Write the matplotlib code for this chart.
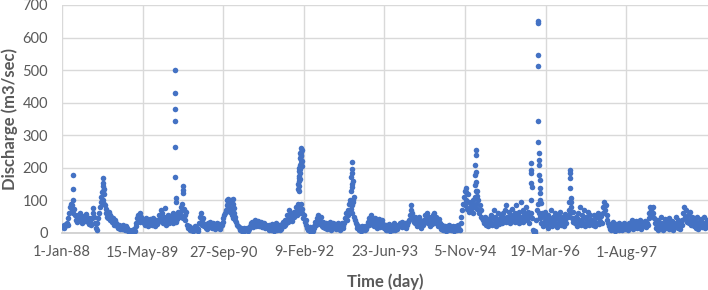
import numpy as np
import pandas as pd
import matplotlib
matplotlib.use("Agg")
import matplotlib.pyplot as plt

# ---- base flow, one value every 5 days, one list per calendar year ----
q1988 = [18,22,15,25,20,28,30,24, 45,62,80,88,70,85,60,75,55,
         40,50,35,55,45,62,38,48,30,42,52,36,45,58,40,33,47,28,38,
         25,45,60,77,50,30,15,10, 30,45,60,80,95,110,125,100,90,85,75,60,50,45,
         65,55,40,50,35,45,30,25,40,30,20,25, 15,25,12]
q1989 = [20,12,25,15,18,10,22,14, 8,5,10,3,6,2,8,4,12,6,
         20,30,45,55,40,60,35,50,42,38,
         30,40,25,45,35,20,38,28,42,32,25,36,45,30,22,35,40,28,
         35,55,45,70,40,60,30,50,77,45,25,38,55,42,30,48,
         40,55,30,60,45,50,35,58,42,65,50]
q1990 = [60,80,50,70,45,75,55,40,65,
         25,15,20,10,18,8,12,5,15,10,20,8,14,6,12,
         30,50,61,40,25,45,
         20,28,15,25,12,30,18,35,22,28,15,32,20,12,25,18,30,15,22,28,12,20,25,
         35,45,55,60,70,85,100,80,95,65,100,75,55,45,60,50,40,35,25,20]
q1991 = [18,12,8,15,5,10,14,6,12,8,16,10,5,12,
         20,30,25,35,18,28,40,22,32,26,38,20,30,25,35,18,28,22,32,15,25,20,
         15,25,10,20,8,28,12,22,5,18,30,10,20,15,25,8,18,12,28,35,20,
         25,40,30,55,35,50,70,45,60,38,52,65,48, 60,80,55]
q1992 = [90,70,85,60, 90,75,60,45,55,35,25,40,
         15,8,12,5,18,3,10,6,14,
         20,35,25,45,30,55,40,28,50,22,35,18,
         25,15,30,20,12,28,18,35,22,10,25,30,15,20,28,12,22,32,18,25,10,20,30,15,22,
         30,45,60,40,70,55,90,100,75,85,60,95,50,40,30]
q1993 = [25,15,20,10,18,5,12,22,8,15,10,20,12,
         20,35,25,45,30,55,40,25,35,20,45,30,15,38,25,42,18,32,22,40,28,15,
         20,10,25,8,15,28,12,5,18,22,10,30,15,8,20,12,25,18,
         20,30,25,35,18,28,22,32,15,25,30,35,
         40,55,70,86,60,45,35,50]
q1994 = [30,45,20,35,50,25,40,15,30,38,
         25,40,55,35,61,45,30,50,20,38,45,28,55,62,40,30,48,35,22,42,30,
         20,12,25,8,18,15,22,5,12,20,10,25,15,8,18,12,22,6,15,20,10,18,25,12,8,
         30,50,70,90,110,85,130,100,75,120,95,65,80, 70,90,60,100]
q1995 = [80,110,90,130,75,100,60,85,50,70,45,
         40,30,50,25,45,35,20,42,30,
         35,55,25,45,70,30,50,20,40,60,35,28,45,
         40,55,30,60,45,70,35,86,50,40,65,30,55,45,75,38,50,60,35,86,
         45,55,30,65,40,95,50,70,35,60,45,80,55,40,65,30,50,
         60,100,45]
q1996 = [10,3,5,0,40,70,90,60,50,
         45,30,60,20,50,35,65,25,40,55,15,45,30,70,38,22,50,35,60,28,
         45,18,55,40,30,65,25,48,35,20,58,42,30,50,
         50,70,95,60,80,45,65,35,40,
         30,50,20,45,60,35,80,40,25,55,30,70,45,20,50,35,65,25,40,55,30]
q1997 = [40,25,55,35,20,50,30,60,45,28,38,52,30,
         60,80,95,70,85,55,40,
         30,20,12,25,8,18,35,15,22,5,28,12,20,32,10,18,25,8,15,30,20,12,25,18,10,
         20,32,15,28,40,22,12,35,25,18,38,15,30,22,40,28,12,35,20,30,25,38,18,32,26,
         45,60,80]
q1998 = [70,55,80,60,45,
         30,15,40,22,10,35,25,48,18,30,8,28,42,20,15,35,25,12,45,30,
         20,38,10,25,32,18,50,28,15,40,22,12,35,25,
         40,60,80,50,70,45,35,55,30,65,40,25,50,
         30,45,20,38,15,50,28,12,35,22,42,18,30,25,48,15,32,20,40,28,35]
years = [1988,1989,1990,1991,1992,1993,1994,1995,1996,1997,1998]
base_series = [q1988,q1989,q1990,q1991,q1992,q1993,q1994,q1995,q1996,q1997,q1998]

# ---- flood days (daily readings during the big events) ----
flood_dates = ["1988-03-08","1988-03-10","1988-03-11",
               "1988-09-10","1988-09-12","1988-09-13","1988-09-14","1988-09-16","1988-09-18",
               "1989-11-30","1989-12-01","1989-12-02","1989-12-03","1989-12-04","1989-12-05",
               "1989-12-06","1989-12-10","1990-01-15","1990-01-18","1990-01-19","1990-01-20",
               "1990-10-28","1990-10-29","1990-10-30","1990-11-28","1990-11-29","1990-11-30",
               "1992-01-05","1992-01-06","1992-01-07","1992-01-08","1992-01-09","1992-01-10",
               "1992-01-11","1992-01-12","1992-01-13","1992-01-14","1992-01-15","1992-01-16",
               "1992-01-17","1992-01-18","1992-01-19","1992-01-20","1992-01-21","1992-01-22",
               "1992-01-23","1992-01-24","1992-01-25","1992-01-26","1992-01-27","1992-01-28",
               "1992-11-25","1992-11-28","1992-12-01","1992-12-02","1992-12-03","1992-12-04",
               "1992-12-06","1992-12-08","1992-12-12","1992-12-15",
               "1994-11-10","1994-11-12","1995-01-05","1995-01-07","1995-01-08","1995-01-09",
               "1995-01-10","1995-01-11","1995-01-13","1995-01-15","1995-01-18",
               "1995-12-18","1995-12-19","1995-12-20","1995-12-22","1995-12-24",
               "1996-01-29","1996-01-30","1996-01-31","1996-02-01","1996-02-02","1996-02-03",
               "1996-02-04","1996-02-05","1996-02-06","1996-02-08","1996-02-10","1996-02-12",
               "1996-02-14","1996-02-16","1996-02-18",
               "1996-08-14","1996-08-15","1996-08-17","1996-08-19","1996-08-21","1996-08-23"]
flood_q = [100,178,135,
           130,153,168,145,135,120,
           265,500,430,380,345,172,
           107,95,90,145,132,122,
           103,92,80,103,90,78,
           135,150,130,160,175,145,
           190,170,200,185,165,195,
           210,230,245,260,250,240,
           225,215,235,205,255,220,
           172,130,184,198,218,150,
           140,160,100,110,
           138,125,148,178,208,240,
           255,187,156,130,115,
           214,193,184,153,141,
           650,644,546,512,344,280,
           245,225,208,178,163,138,
           123,100,92,
           193,184,168,138,107,95]

tick_labels = ["1-Jan-88","15-May-89","27-Sep-90","9-Feb-92",
               "23-Jun-93","5-Nov-94","19-Mar-96","1-Aug-97"]
y_ticks = [0,100,200,300,400,500,600,700]

# ---- assemble ----
xs, ys = [], []
for yr, vals in zip(years, base_series):
    start = np.datetime64(f"{yr}-01-01")
    d = start + np.arange(len(vals)) * np.timedelta64(5, "D")
    xs.append(d); ys.append(np.array(vals, float))
xs.append(np.array(flood_dates, dtype="datetime64[D]"))
ys.append(np.array(flood_q, float))
x_all = np.concatenate(xs)
y_all = np.concatenate(ys)

plt.rcParams['font.family'] = ['Lato', 'DejaVu Sans']
fig = plt.figure(figsize=(7.08, 2.90), dpi=100)
ax = fig.add_axes([62/708, 1-233/290, 646/708, 228/290])

ax.scatter(pd.to_datetime(x_all), y_all, s=16, color="#4472C4", linewidths=0, zorder=3)

tick_dates = pd.to_datetime(tick_labels, format="%d-%b-%y")
x0 = pd.Timestamp("1988-01-01")
ax.set_xlim(x0, x0 + pd.Timedelta(days=4007))
ax.set_xticks(tick_dates)
ax.set_xticklabels(tick_labels)
ax.set_ylim(0, 700)
ax.set_yticks(y_ticks)

grid_c = "#D9D9D9"
ax.grid(True, color=grid_c, linewidth=1.0, zorder=0)
ax.set_axisbelow(True)
for s in ["top", "right", "left"]:
    ax.spines[s].set_visible(False)
ax.spines["bottom"].set_color("#D0D0D0")
ax.spines["bottom"].set_linewidth(1.3)
ax.tick_params(axis="both", length=0, colors="#595959", labelsize=10.5)
ax.tick_params(axis="x", pad=9)
ax.tick_params(axis="y", pad=10)

ax.set_xlabel("Time (day)", fontsize=12, fontweight="bold", color="#595959", labelpad=10)
ax.set_ylabel("Discharge (m3/sec)", fontsize=12, fontweight="bold", color="#595959")
ax.yaxis.set_label_coords(-0.068, 0.5)

fig.savefig("out.png", dpi=100)
